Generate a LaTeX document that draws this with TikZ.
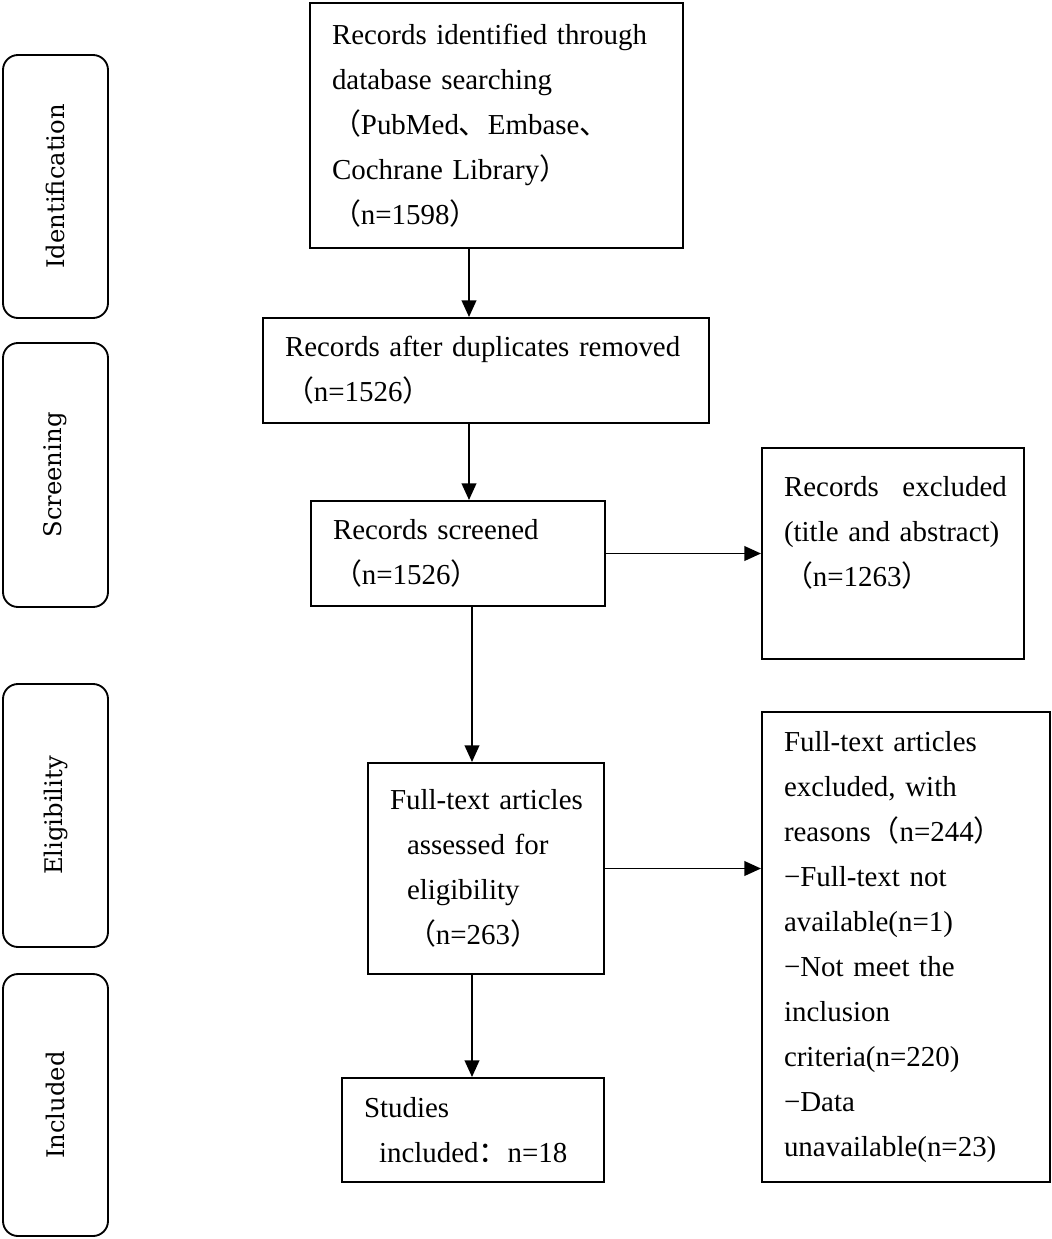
\documentclass[tikz,border=0pt]{standalone}
\usepackage{fontspec}
\setmainfont{Liberation Serif}
\newfontfamily\cjk{Noto Sans CJK SC}
\newfontfamily\sidefont{DejaVu Serif}
\usetikzlibrary{arrows.meta}
\newcommand\zlp{{\cjk （}}
\newcommand\zrp{{\cjk ）}}
\newcommand\zdn{{\cjk 、}}
\newcommand\zcl{{\cjk ：}}
\begin{document}
\begin{tikzpicture}[x=0.75pt,y=-0.75pt,
  box/.style={draw, line width=1.5pt, align=left, inner xsep=16.5pt, inner ysep=0pt,
    font=\fontsize{21.7pt}{33.75pt}\selectfont},
  side/.style={draw, line width=1.4pt, rounded corners=11.25pt, rotate=90,
    minimum height=78.75pt, inner sep=0pt, font=\sidefont\fontsize{18.2pt}{20pt}\selectfont},
  arr/.style={line width=1.4pt, -{Triangle[length=12.5pt,width=11pt]}}]
\useasboundingbox (0,0) rectangle (1052,1239);

% phase labels
\node[side, minimum width=197.25pt] (sid) at (55.5,186.5) {Identification};
\node[side, minimum width=198pt]    (sscr) at (55.5,475) {Screening};
\node[side, minimum width=197.25pt] (seli) at (55.5,815.5) {Eligibility};
\node[side, minimum width=196.5pt]  (sinc) at (55.5,1105) {Included};

% main boxes
\node[box, minimum width=279.75pt, minimum height=183.75pt, text width=246.75pt] (top) at (496.5,125.5)
  {Records identified through\\database searching\\\zlp PubMed\zdn Embase\zdn\\Cochrane Library\zrp\\\zlp n=1598\zrp};
\node[box, minimum width=334.5pt, minimum height=78.75pt, text width=301.5pt] (dup) at (486,370.5)
  {\mbox{Records after duplicates removed}\\\zlp n=1526\zrp};
\node[box, minimum width=220.5pt, minimum height=78.75pt, text width=187.5pt] (scr) at (458,553.5)
  {Records screened\\\zlp n=1526\zrp};
\node[box, minimum width=196.5pt, minimum height=158.25pt, text width=163.5pt] (exc) at (893,553.5)
  {\mbox{Records\hspace{10.5pt} excluded}\\\mbox{(title and abstract)}\\\zlp n=1263\zrp\\\mbox{}};
\node[box, minimum width=177pt, minimum height=158.25pt, text width=144pt] (ft) at (486,868.5)
  {\mbox{Full-text articles}\\\hspace*{12.75pt}assessed for\\\hspace*{12.75pt}eligibility\\\mbox{\hspace*{12.75pt}\zlp n=263\zrp}};
\node[box, minimum width=196.5pt, minimum height=78pt, text width=163.5pt] (stu) at (473,1130)
  {Studies\\\mbox{\hspace*{11.25pt}included\zcl n=18}};
\node[box, minimum width=216pt, minimum height=352.5pt, text width=183pt] (rbox) at (906,947)
  {Full-text articles\\excluded, with\\\mbox{reasons\zlp n=244\zrp}\\−Full-text not\\available(n=1)\\−Not meet the\\inclusion\\criteria(n=220)\\−Data\\\mbox{unavailable(n=23)}};

% connectors
\coordinate (ax) at (469,0);
\coordinate (bx) at (472,0);
\draw[arr] (top.south -| ax) -- (dup.north -| ax);
\draw[arr] (dup.south -| ax) -- (scr.north -| ax);
\draw[arr] (scr.east) -- (exc.west);
\draw[arr] (scr.south -| bx) -- (ft.north -| bx);
\draw[arr] (ft.east) -- (ft.east -| rbox.west);
\draw[arr] (ft.south -| bx) -- (stu.north -| bx);
\end{tikzpicture}
\end{document}
